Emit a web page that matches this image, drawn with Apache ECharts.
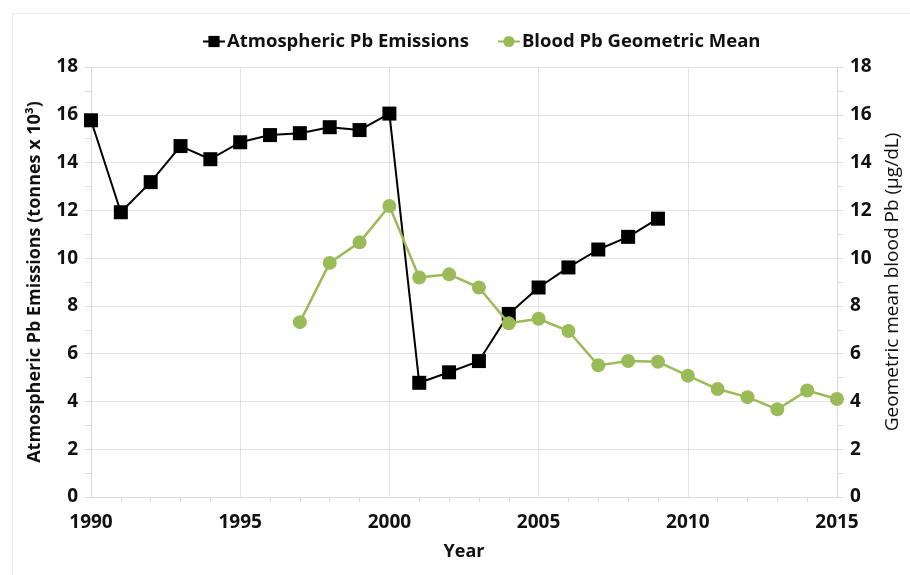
<!DOCTYPE html>
<html>
<head>
<meta charset="utf-8">
<script src="https://cdn.jsdelivr.net/npm/echarts@6/dist/echarts.min.js"></script>
<style>
  html, body { margin: 0; padding: 0; background: #fff; }
  #chart { width: 910px; height: 575px; }
</style>
</head>
<body>
<div id="chart"></div>
<script>
// Pb emissions vs blood Pb

const emissionYears = [1990, 1991, 1992, 1993, 1994, 1995, 1996, 1997, 1998, 1999,
  2000, 2001, 2002, 2003, 2004, 2005, 2006, 2007, 2008, 2009];
const emissionValues = [15.77, 11.92, 13.18, 14.69, 14.14, 14.85, 15.15, 15.23, 15.48, 15.36,
  16.05, 4.78, 5.22, 5.69, 7.66, 8.77, 9.61, 10.36, 10.89, 11.65];

const bloodYears = [1997, 1998, 1999, 2000, 2001, 2002, 2003, 2004, 2005, 2006,
  2007, 2008, 2009, 2010, 2011, 2012, 2013, 2014, 2015];
const bloodValues = [7.32, 9.8, 10.66, 12.18, 9.19, 9.32, 8.77, 7.27, 7.46, 6.95,
  5.51, 5.69, 5.66, 5.08, 4.52, 4.18, 3.67, 4.46, 4.1];

const seriesNames = ['Atmospheric Pb Emissions', 'Blood Pb Geometric Mean'];

const font = 'Open Sans';
const axisGray = '#d9d9d9';

function pairs(xs, ys) {
  let out = [];
  for (let i = 0; i < xs.length; i++) {
    out.push([xs[i], ys[i]]);
  }
  return out;
}

let yAxisCommon = {
  type: 'value',
  min: 0,
  max: 18,
  interval: 2,
  axisLine: { show: true, lineStyle: { color: axisGray } },
  axisTick: { show: true, length: 6, lineStyle: { color: axisGray } },
  minorTick: { show: true, splitNumber: 2, length: 6, lineStyle: { color: axisGray } },
  splitLine: { show: true, lineStyle: { color: '#e3e3e3' } },
  axisLabel: { color: '#111', fontFamily: font, fontWeight: 'bold', fontSize: 19, margin: 13 },
  nameLocation: 'middle',
  nameTextStyle: { color: '#111', fontFamily: font, fontSize: 18 }
};

let chart = echarts.init(document.getElementById('chart'));
let option = {
  backgroundColor: '#fff',
  animation: false,
  graphic: [{
    type: 'rect',
    left: 10,
    top: 11,
    shape: { width: 1000, height: 700 },
    style: { fill: 'none', stroke: '#ececec', lineWidth: 1 },
    silent: true
  }],
  legend: {
    top: 27,
    left: 197,
    itemGap: 28,
    itemWidth: 22,
    itemHeight: 14,
    data: seriesNames,
    textStyle: { color: '#111', fontFamily: font, fontWeight: 'bold', fontSize: 18.5, padding: [0, 0, 0, -3] }
  },
  grid: { left: 91, right: 69, top: 67, bottom: 78 },
  xAxis: {
    type: 'value',
    min: 1990,
    max: 2015,
    interval: 5,
    name: 'Year',
    nameLocation: 'middle',
    nameGap: 46,
    nameTextStyle: { color: '#111', fontFamily: font, fontWeight: 'bold', fontSize: 18 },
    axisLine: { show: true, onZero: false, lineStyle: { color: axisGray } },
    axisTick: { show: false },
    minorTick: { show: true, splitNumber: 5, length: 5, lineStyle: { color: axisGray } },
    splitLine: { show: true, lineStyle: { color: '#e3e3e3' } },
    axisLabel: {
      color: '#111', fontFamily: font, fontWeight: 'bold', fontSize: 19, margin: 16,
      formatter: function (v) { return String(v); }
    }
  },
  yAxis: [
    Object.assign({}, yAxisCommon, {
      position: 'left',
      name: 'Atmospheric Pb Emissions (tonnes x 10³)',
      nameGap: 47,
      nameTextStyle: Object.assign({}, yAxisCommon.nameTextStyle, { fontWeight: 'bold' })
    }),
    Object.assign({}, yAxisCommon, {
      position: 'right',
      name: 'Geometric mean blood Pb (µg/dL)',
      nameGap: 46,
      splitLine: { show: false },
      nameTextStyle: Object.assign({}, yAxisCommon.nameTextStyle, { fontSize: 19, fontWeight: 'normal' })
    })
  ],
  series: [
    {
      name: seriesNames[0],
      type: 'line',
      yAxisIndex: 0,
      data: pairs(emissionYears, emissionValues),
      symbol: 'rect',
      symbolSize: 14,
      itemStyle: { color: '#000' },
      lineStyle: { color: '#000', width: 2 },
      z: 3
    },
    {
      name: seriesNames[1],
      type: 'line',
      yAxisIndex: 1,
      data: pairs(bloodYears, bloodValues),
      symbol: 'circle',
      symbolSize: 14,
      itemStyle: { color: '#9bbb59' },
      lineStyle: { color: '#9bbb59', width: 2.5 },
      z: 4
    }
  ]
};
chart.setOption(option);
</script>
</body>
</html>
